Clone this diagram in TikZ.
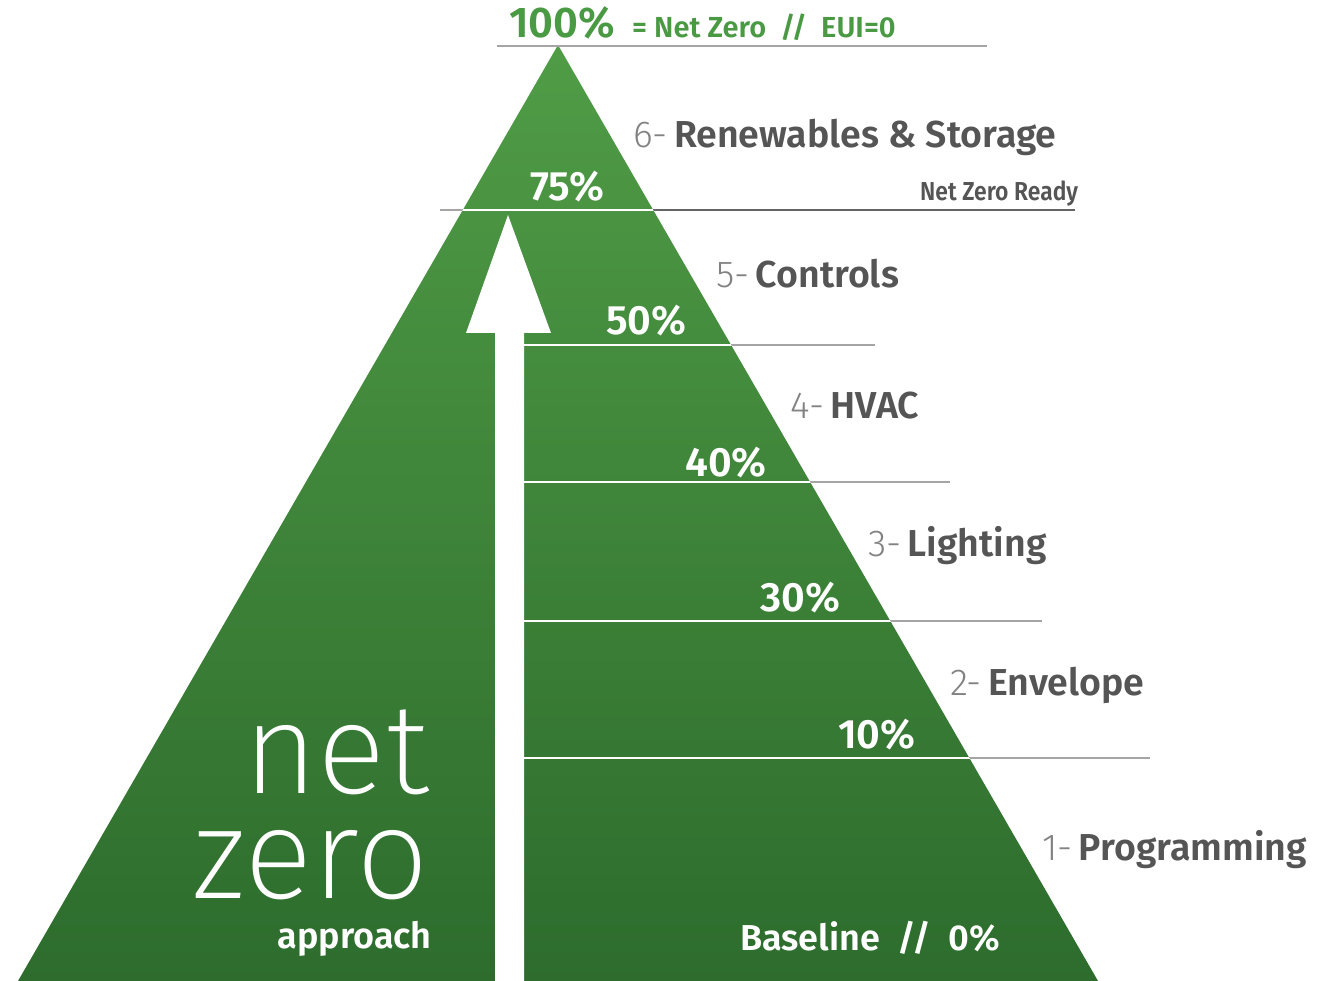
\documentclass[tikz,border=0pt]{standalone}
\usepackage{fontspec}
\setmainfont{Fira Sans}[BoldFont={Fira Sans SemiBold}]
\newfontfamily\condfont{Fira Sans}[FakeStretch=0.88,BoldFont={Fira Sans SemiBold}]
\newfontfamily\thinfont{Fira Sans Light}
\newfontfamily\xthinfont{Fira Sans ExtraLight}
\definecolor{gTop}{RGB}{80,156,70}
\definecolor{gBot}{RGB}{45,108,45}
\definecolor{gText}{RGB}{74,154,68}
\definecolor{numGray}{RGB}{130,130,130}
\definecolor{labGray}{RGB}{85,85,85}
\definecolor{lineGray}{RGB}{165,165,165}
\definecolor{darkLine}{RGB}{100,100,100}
\tikzset{
  steplabel/.style={anchor=base west, inner sep=0pt, font=\fontsize{37.5}{44}\selectfont, text=labGray},
  pct/.style={anchor=base west, inner sep=0pt, font=\fontsize{41}{46}\selectfont\bfseries, text=white},
  levelline/.style={lineGray, line width=1.8pt},
  inline/.style={white, line width=1.8pt}
}
\newcommand{\stepnum}[1]{{\thinfont\color{numGray}#1}\,}
\begin{document}
\begin{tikzpicture}[x=1pt,y=-1pt]
\useasboundingbox (0,0) rectangle (1322,981);
\fill[white] (0,0) rectangle (1322,981);
% pyramid
\coordinate (apex) at (558,45);
\coordinate (bl) at (18,981);
\coordinate (br) at (1098,981);
\shade[top color=gTop, bottom color=gBot] (apex) -- (br) -- (bl) -- cycle;
% level lines (end points)
\coordinate (a100) at (497,46);  \coordinate (b100) at (987,46);
\coordinate (a75) at (440,210);  \coordinate (b75) at (1075,210);
\coordinate (a50) at (524,345);  \coordinate (b50) at (875,345);
\coordinate (a40) at (524,482);  \coordinate (b40) at (950,482);
\coordinate (a30) at (524,621);  \coordinate (b30) at (1042,621);
\coordinate (a10) at (524,758);  \coordinate (b10) at (1150,758);
\draw[levelline] (a100) -- (b100);
\draw[darkLine, line width=1.8pt] (a75) -- (b75);
\draw[lineGray, line width=1.8pt] (a75) -- (558,210);
\foreach \l in {50,40,30,10}{\draw[levelline] (a\l) -- (b\l);}
\begin{scope}
  \clip (apex) -- (br) -- (bl) -- cycle;
  \foreach \l in {75,50,40,30,10}{\draw[inline] (a\l) -- (b\l);}
\end{scope}
% arrow
\fill[white] (495,981) -- (495,333) -- (466,333) -- (508,215) -- (551,333) -- (524,333) -- (524,981) -- cycle;
% top text
\node[anchor=base west, inner sep=0pt, text=gText, font=\fontsize{43}{48}\selectfont\bfseries] (t100) at (509,38) {100\%};
\node[anchor=base west, inner sep=0pt, text=gText, font=\fontsize{29}{32}\selectfont\bfseries] (tnz) at (632,38) {=\ Net Zero\ \ //\ \ EUI=0};
% step labels
\node[steplabel] (s6) at (633,148) {\stepnum{6-}\textbf{Renewables \& Storage}};
\node[anchor=base west, inner sep=0pt, text=labGray, font=\condfont\fontsize{26}{30}\selectfont\bfseries] (nzr) at (920,201) {Net Zero Ready};
\node[steplabel] (s5) at (716,288) {\stepnum{5-}\textbf{Controls}};
\node[steplabel] (s4) at (790,418) {\stepnum{4-}\textbf{HVAC}};
\node[steplabel] (s3) at (868,556) {\stepnum{3-}\textbf{Lighting}};
\node[steplabel] (s2) at (950,695) {\stepnum{2-}\textbf{Envelope}};
\node[steplabel] (s1) at (1042,860) {\stepnum{1-}\textbf{Programming}};
% percentages
\node[pct] (p75) at (530,201) {75\%};
\node[pct] (p50) at (606,335) {50\%};
\node[pct] (p40) at (685,476) {40\%};
\node[pct] (p30) at (760,611) {30\%};
\node[pct] (p10) at (838,748) {10\%};
\node[anchor=base west, inner sep=0pt, text=white, font=\fontsize{36}{40}\selectfont\bfseries] (base) at (740,950) {Baseline\ \ //\ \ 0\%};
% net zero approach
\node[anchor=base east, inner sep=0pt, text=white, align=right, font=\xthinfont\fontsize{128}{105}\selectfont] (netzero) at (429,898) {net\\zero};
\node[anchor=base east, inner sep=0pt, text=white, font=\fontsize{36}{40}\selectfont\bfseries] (appr) at (432,948) {approach};
\end{tikzpicture}
\end{document}
